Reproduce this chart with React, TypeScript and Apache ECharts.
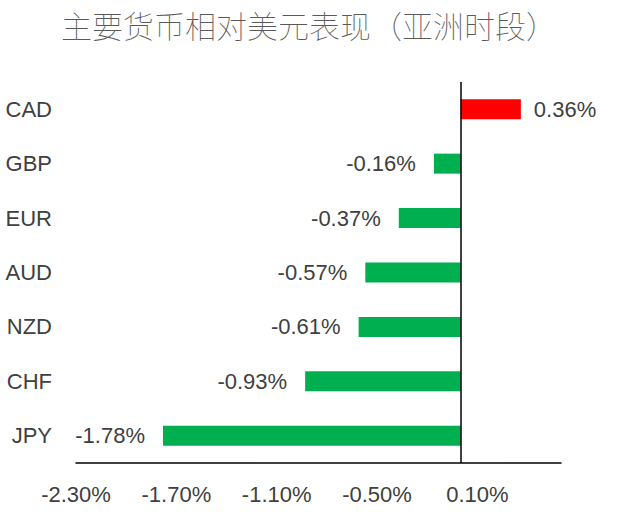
import { useEffect, useRef } from "react"
import * as echarts from "echarts"

const currencies = ["CAD", "GBP", "EUR", "AUD", "NZD", "CHF", "JPY"]
const changes = [0.36, -0.16, -0.37, -0.57, -0.61, -0.93, -1.78]
const xTicks = [-2.3, -1.7, -1.1, -0.5, 0.1]

const font = "'Liberation Sans', Arial, sans-serif"

export default function App() {
  const chartRef = useRef<HTMLDivElement>(null)

  useEffect(() => {
    document.body.style.margin = "0"
    if (!chartRef.current) return
    const chart = echarts.init(chartRef.current, null, { renderer: "svg" })

    const option: echarts.EChartsOption = {
      animation: false,
      title: {
        text: "主要货币相对美元表现（亚洲时段）",
        left: "center",
        top: 4,
        textStyle: {
          fontFamily: "'Noto Sans CJK SC', sans-serif",
          fontSize: 31,
          fontWeight: "lighter",
          color: "#595959",
        },
      },
      grid: { left: 76, right: 57, top: 82, bottom: 52 },
      xAxis: {
        type: "value",
        min: -2.3,
        max: 0.6,
        axisLine: { show: true, lineStyle: { color: "#000", width: 1.5 } },
        axisTick: { show: false },
        splitLine: { show: false },
        axisLabel: {
          customValues: xTicks,
          margin: 20,
          fontFamily: font,
          fontSize: 22,
          color: "#404040",
          formatter: (v: number) => v.toFixed(2) + "%",
        },
      },
      yAxis: {
        type: "category",
        inverse: true,
        data: currencies,
        axisLine: { show: false, onZero: false },
        axisTick: { show: false },
        axisLabel: {
          margin: 24,
          fontFamily: font,
          fontSize: 22,
          color: "#404040",
        },
      },
      series: [
        {
          type: "bar",
          barWidth: 20,
          data: changes.map((v) => ({
            value: v,
            itemStyle: { color: v >= 0 ? "#FF0000" : "#00B050" },
            label: {
              show: true,
              position: v >= 0 ? "right" : "left",
              distance: v >= 0 ? 13 : 18,
              formatter: v.toFixed(2) + "%",
              fontFamily: font,
              fontSize: 22,
              color: "#404040",
            },
          })),
          markLine: {
            silent: true,
            symbol: "none",
            label: { show: false },
            lineStyle: { color: "#000", width: 1.5, type: "solid" },
            data: [{ xAxis: 0 }],
          },
        },
      ],
    }

    chart.setOption(option)
    return () => chart.dispose()
  }, [])

  return <div ref={chartRef} style={{ width: 618, height: 515 }} />
}
